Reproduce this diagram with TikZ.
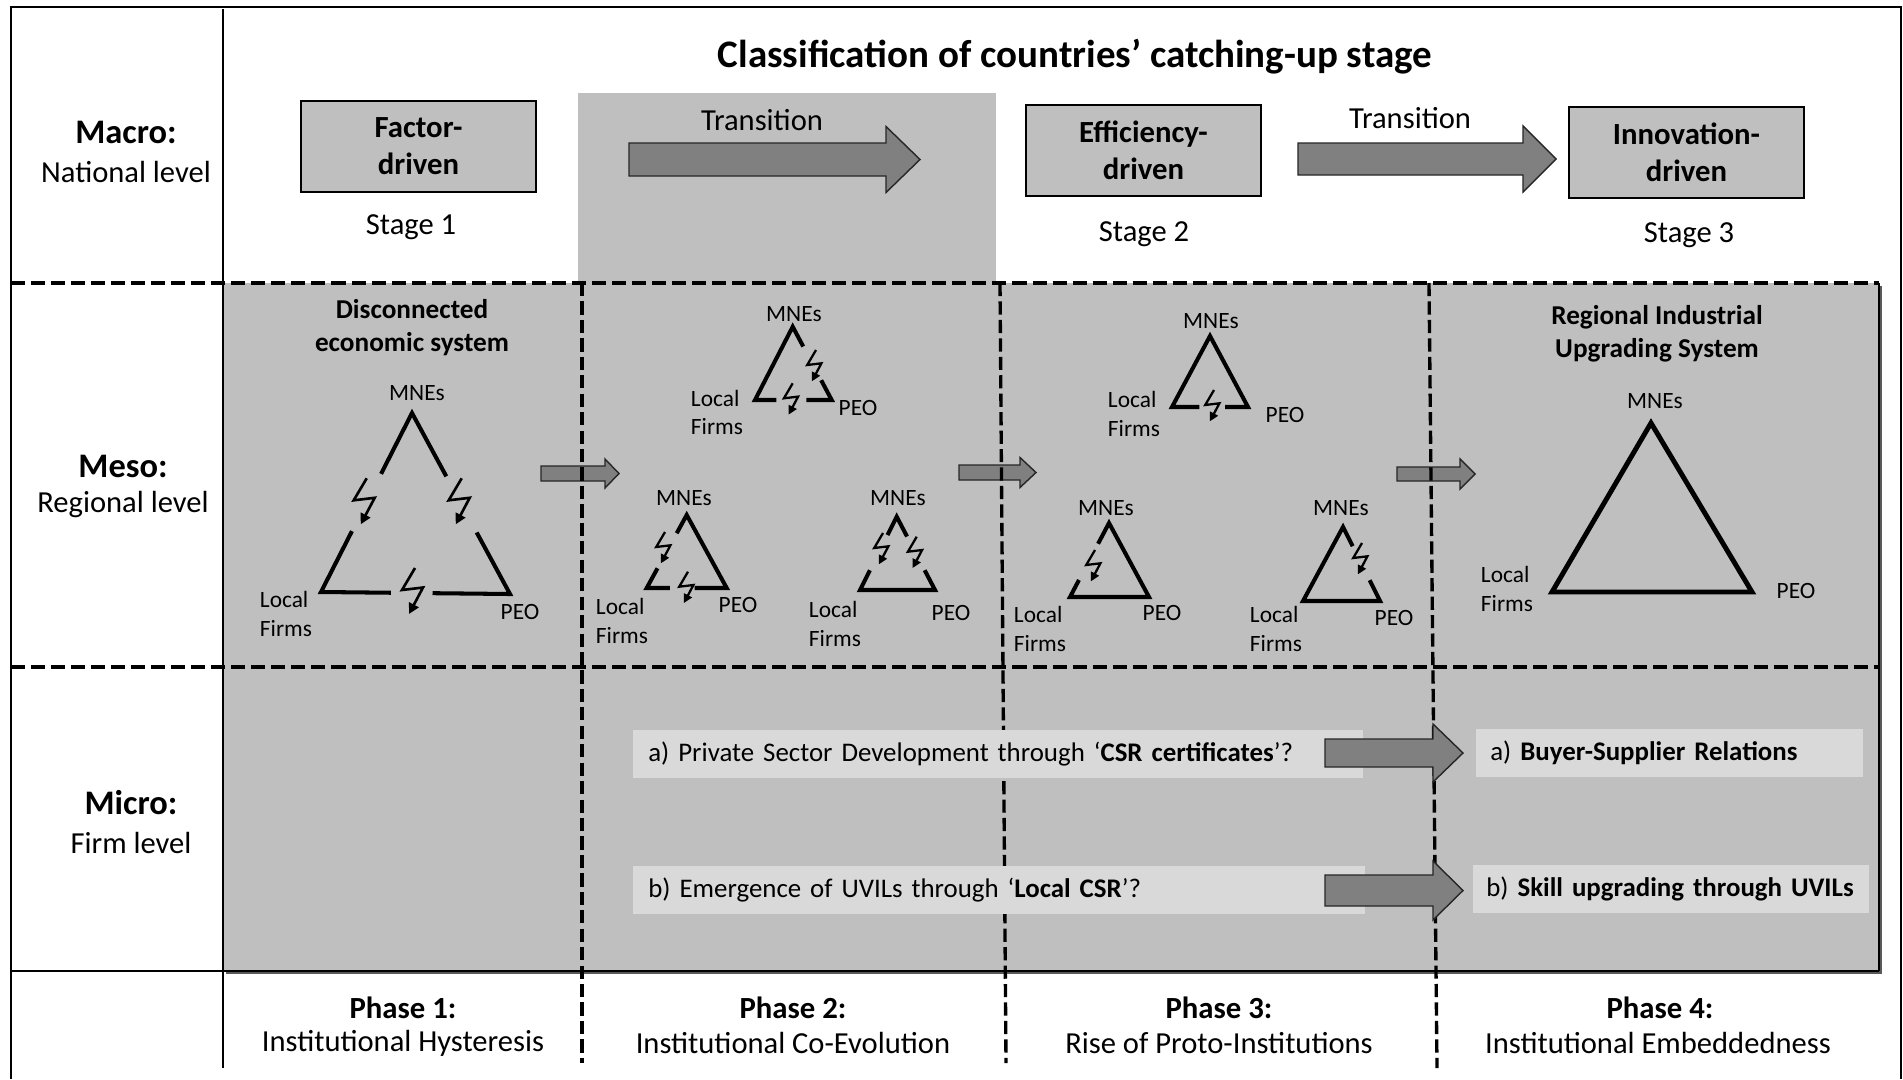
\documentclass[tikz,border=0pt]{standalone}
\usepackage{fontspec}
\setmainfont{Carlito}
\usetikzlibrary{positioning,calc,arrows.meta}

\definecolor{panelgray}{RGB}{191,191,191}
\definecolor{arrowgray}{RGB}{128,128,128}
\definecolor{notegray}{RGB}{217,217,217}

% block arrow: tail x, tip x, middle y, half shaft, half head, head length
\newcommand{\fatarrow}[6]{%
  \filldraw[fatarrow] (#1,#3-#4) -- (#2-#6,#3-#4) -- (#2-#6,#3-#5) -- (#2,#3)
    -- (#2-#6,#3+#5) -- (#2-#6,#3+#4) -- (#1,#3+#4) -- cycle;}

\begin{document}
\begin{tikzpicture}[x=0.02cm,y=-0.02cm]
        \tikzset{fatarrow/.style={draw=black!85, line width=0.8pt, fill=arrowgray},
                 hdash/.style={line width=2.2pt, dash pattern=on 8pt off 3.4pt},
                 vdash/.style={line width=1.9pt, dash pattern=on 7.5pt off 3pt},
                 stagebox/.style={draw, line width=1pt, fill=panelgray, minimum width=4.7cm, minimum height=1.82cm, align=center, font=\bfseries\fontsize{17.5}{21}\selectfont},
                 plain/.style={inner sep=0pt, font=\fontsize{17.4}{21}\selectfont},
                 levelhead/.style={inner sep=0pt, font=\bfseries\fontsize{19.6}{23}\selectfont},
                 phasehead/.style={inner sep=0pt, font=\bfseries\fontsize{17.5}{21}\selectfont},
                 systitle/.style={inner sep=0pt, align=center, font=\bfseries\fontsize{15.5}{18.8}\selectfont},
                 actor/.style={inner sep=0pt, align=left, font=\fontsize{13.3}{16}\selectfont},
                 tri/.style={line width=2.3pt},
                 bigtri/.style={line width=2.8pt},
                 note/.style={fill=notegray, inner xsep=0.3cm, minimum height=0.96cm, align=left, anchor=west, font=\fontsize{15.3}{18}\selectfont},
                 bigbolt/.pic={\draw[line width=1.5pt, -{Triangle[length=6pt, width=6pt]}] (0,0) -- (-13,22) -- (8,19.5) -- (-6,46);},
                 smallbolt/.pic={\draw[line width=1.3pt, -{Triangle[length=5pt, width=5pt]}] (0,0) -- (-8.8,15) -- (5.4,13.3) -- (-4.1,31.3);}}
        \useasboundingbox (0,0) rectangle (1903,1079);
        \fill[white] (0,0) rectangle (1903,1079);
        %
        \fill[panelgray] (578,93) rectangle (996,283);
        \fill[black!65] (226,286) rectangle (1882,974);
        \fill[panelgray] (223,283) rectangle (1879,971);
        %
        \draw[line width=1.1pt] (11,1079) -- (11,7) -- (1901,7) -- (1901,1079);
        \draw[line width=1.1pt] (223,9) -- (223,1068);
        \draw[line width=1.4pt] (11,971) -- (1879,971);
        %
        \node[inner sep=0pt, font=\bfseries\fontsize{22.2}{26}\selectfont] (title) at (1075,57) {Classification of countries’ catching-up stage};
        %
        \node[levelhead] (macro) at (126,132) {Macro:};
        \node[plain] (macrosub) at (126,172) {National level};
        \node[levelhead] (meso) at (123,466) {Meso:};
        \node[plain] (mesosub) at (123,505) {Regional level};
        \node[levelhead] (micro) at (131,803) {Micro:};
        \node[plain] (microsub) at (131,843) {Firm level};
        %
        \node[stagebox] (factor) at (418.5,146.5) {Factor-\\driven};
        \node[stagebox] (efficiency) at (1143.5,150.5) {Efficiency-\\driven};
        \node[stagebox] (innovation) at (1686.5,152.5) {Innovation-\\driven};
        \node[plain] (stage1) at (411,227) {Stage 1};
        \node[plain] (stage2) at (1144,234) {Stage 2};
        \node[plain] (stage3) at (1689,235) {Stage 3};
        %
        \fatarrow{629}{920}{159.5}{16.5}{33}{34}
        \fatarrow{1298}{1556}{159}{16}{33}{33}
        \node[plain] (trans1) at (762,120) {Transition};
        \node[plain] (trans2) at (1410,118) {Transition};
        %
        \fatarrow{541}{619}{473.5}{7.5}{14.5}{14}
        \fatarrow{959}{1036}{472.5}{7.5}{15}{16}
        \fatarrow{1397}{1475}{474}{7}{15}{15}
        %
        \draw[hdash] (11,283) -- (1879,283);
        \draw[hdash] (11,667) -- (1879,667);
        \draw[vdash] (582,283) -- (582,1063);
        \draw[vdash] (1000,283) -- (1006,1063);
        \draw[vdash] (1429,283) -- (1437,1068);
        \draw[line width=1.1pt] (1879,283) -- (1879,971);
        %
        % Phase 1
        \node[systitle] (disc) at (412,328) {Disconnected\\economic system};
        \coordinate (p1t) at (412,413); \coordinate (p1l) at (321,592); \coordinate (p1r) at (510,594);
        \draw[tri] ($(p1t)!0.35!(p1r)$) -- (p1t) -- ($(p1t)!0.34!(p1l)$) ($(p1t)!0.66!(p1l)$) -- (p1l) -- ($(p1l)!0.37!(p1r)$) ($(p1l)!0.59!(p1r)$) -- (p1r) -- ($(p1t)!0.66!(p1r)$);
        \pic at (366.7,478.3) {bigbolt};
        \pic at (461.7,478.3) {bigbolt};
        \pic at (415,568) {bigbolt};
        \node[actor] (p1mne) at (417,393) {MNEs};
        \node[actor] (p1loc) at (286,614) {Local\\Firms};
        \node[actor] (p1peo) at (520,612) {PEO};
        %
        % Phase 2
        \coordinate (p2at) at (792.7,326.7); \coordinate (p2al) at (755,400); \coordinate (p2ar) at (831.7,400);
        \draw[tri] ($(p2at)!0.27!(p2ar)$) -- (p2at) -- (p2al) -- ($(p2al)!0.28!(p2ar)$) ($(p2al)!0.67!(p2ar)$) -- (p2ar) -- ($(p2at)!0.73!(p2ar)$);
        \pic at (816,350) {smallbolt};
        \pic at (792.7,383.3) {smallbolt};
        \node[actor] (p2amne) at (794,314) {MNEs};
        \node[actor] (p2aloc) at (717,412.5) {Local\\Firms};
        \node[actor] (p2apeo) at (858,408) {PEO};
        %
        \coordinate (p2bt) at (686.7,515); \coordinate (p2bl) at (646.7,588); \coordinate (p2br) at (726.7,588);
        \draw[tri] ($(p2bt)!0.25!(p2bl)$) -- (p2bt) -- (p2br) -- ($(p2bl)!0.60!(p2br)$) ($(p2bl)!0.29!(p2br)$) -- (p2bl) -- ($(p2bt)!0.73!(p2bl)$);
        \pic at (665,532) {smallbolt};
        \pic at (688,571.7) {smallbolt};
        \node[actor] (p2bmne) at (684,498) {MNEs};
        \node[actor] (p2bloc) at (622,621) {Local\\Firms};
        \node[actor] (p2bpeo) at (738,605) {PEO};
        %
        \coordinate (p2ct) at (896.7,516.7); \coordinate (p2cl) at (860,590); \coordinate (p2cr) at (935,590);
        \draw[tri] ($(p2ct)!0.25!(p2cl)$) -- (p2ct) -- ($(p2ct)!0.27!(p2cr)$) ($(p2ct)!0.73!(p2cr)$) -- (p2cr) -- (p2cl) -- ($(p2ct)!0.73!(p2cl)$);
        \pic at (883,533) {smallbolt};
        \pic at (916.7,536.7) {smallbolt};
        \node[actor] (p2cmne) at (898,498) {MNEs};
        \node[actor] (p2cloc) at (835,624) {Local\\Firms};
        \node[actor] (p2cpeo) at (951,613) {PEO};
        %
        % Phase 3
        \coordinate (p3at) at (1210,336); \coordinate (p3al) at (1172,407); \coordinate (p3ar) at (1248,407);
        \draw[tri] ($(p3al)!0.36!(p3ar)$) -- (p3al) -- (p3at) -- (p3ar) -- ($(p3al)!0.70!(p3ar)$);
        \pic at (1214,390) {smallbolt};
        \node[actor] (p3amne) at (1211,321) {MNEs};
        \node[actor] (p3aloc) at (1134,414) {Local\\Firms};
        \node[actor] (p3apeo) at (1285,415) {PEO};
        %
        \coordinate (p3bt) at (1109,523); \coordinate (p3bl) at (1070,597); \coordinate (p3br) at (1149,597);
        \draw[tri] ($(p3bt)!0.28!(p3bl)$) -- (p3bt) -- (p3br) -- (p3bl) -- ($(p3bt)!0.77!(p3bl)$);
        \pic at (1095,550) {smallbolt};
        \node[actor] (p3bmne) at (1106,508) {MNEs};
        \node[actor] (p3bloc) at (1040,629) {Local\\Firms};
        \node[actor] (p3bpeo) at (1162,613) {PEO};
        %
        \coordinate (p3ct) at (1343,527); \coordinate (p3cl) at (1303,601); \coordinate (p3cr) at (1380,601);
        \draw[tri] ($(p3ct)!0.26!(p3cr)$) -- (p3ct) -- (p3cl) -- (p3cr) -- ($(p3ct)!0.72!(p3cr)$);
        \pic at (1362,543) {smallbolt};
        \node[actor] (p3cmne) at (1341,508) {MNEs};
        \node[actor] (p3cloc) at (1276,629) {Local\\Firms};
        \node[actor] (p3cpeo) at (1394,618) {PEO};
        %
        % Phase 4
        \node[systitle] (rius) at (1657,334) {Regional Industrial\\Upgrading System};
        \coordinate (p4t) at (1651,423); \coordinate (p4l) at (1552,592); \coordinate (p4r) at (1752,592);
        \draw[bigtri] (p4t) -- (p4l) -- (p4r) -- cycle;
        \node[actor] (p4mne) at (1655,401) {MNEs};
        \node[actor] (p4loc) at (1507,589) {Local\\Firms};
        \node[actor] (p4peo) at (1796,591) {PEO};
        %
        % micro level
        \node[note, minimum width=14.6cm, text width=14cm] (csr) at (633,754) {a) Private Sector Development through ‘\textbf{CSR certificates}’?};
        \node[note, minimum width=14.64cm, text width=14.04cm] (local) at (633,889.5) {b) Emergence of UVILs through ‘\textbf{Local CSR}’?};
        \node[note, minimum width=7.74cm, text width=7.18cm, inner xsep=0.28cm] (buyer) at (1476,752.5) {a) \textbf{Buyer-Supplier Relations}};
        \node[note, minimum width=7.92cm, text width=7.4cm, inner xsep=0.26cm] (skill) at (1473,889) {b) \textbf{Skill upgrading through UVILs}};
        \fatarrow{1325}{1463}{753}{14}{29}{30}
        \fatarrow{1325}{1463}{890.5}{15.5}{29.5}{30}
        %
        \node[phasehead] (ph1) at (403,1008) {Phase 1:};
        \node[plain] (ph1sub) at (403,1043) {Institutional Hysteresis};
        \node[phasehead] (ph2) at (793,1008) {Phase 2:};
        \node[plain] (ph2sub) at (793,1043) {Institutional Co-Evolution};
        \node[phasehead] (ph3) at (1219,1008) {Phase 3:};
        \node[plain] (ph3sub) at (1219,1043) {Rise of Proto-Institutions};
        \node[phasehead] (ph4) at (1660,1008) {Phase 4:};
        \node[plain] (ph4sub) at (1658,1043) {Institutional Embeddedness};
    \end{tikzpicture}
\end{document}
